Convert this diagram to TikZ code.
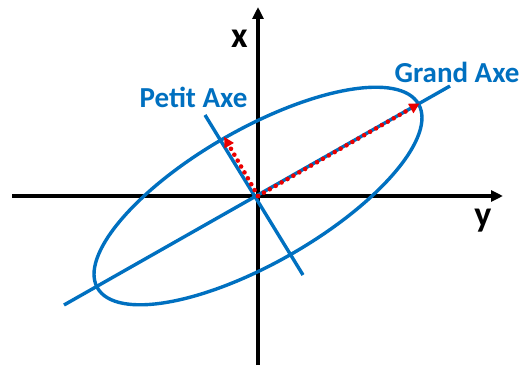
\documentclass[tikz,border=0pt]{standalone}
\usepackage{fontspec}
\setmainfont{Carlito}
\usetikzlibrary{arrows.meta,calc}
\definecolor{axblue}{RGB}{0,112,192}
\definecolor{arrred}{RGB}{235,0,0}
\begin{document}
\begin{tikzpicture}[x=1pt,y=1pt,
  axis/.style={line width=3.2pt,-{Triangle[length=12pt,width=11pt]}},
  blueline/.style={axblue,line width=3.4pt},
  redarrow/.style={arrred,line width=4.6pt,line cap=round,dash pattern=on 0pt off 6.8pt,-{Triangle[length=10pt,width=11pt,line width=0pt]}},
  lab/.style={font=\bfseries\fontsize{36}{40}\selectfont,inner sep=0pt},
  bluelab/.style={font=\bfseries\fontsize{29}{32}\selectfont,inner sep=0pt,text=axblue}]
\useasboundingbox (0,0) rectangle (519,365);
\coordinate (O) at (258,169);
\coordinate (xl) at (12,169);
\coordinate (xr) at (503,169);
\coordinate (yb) at (258,0);
\coordinate (yt) at (258,358);
\coordinate (GA1) at (64,60);
\coordinate (GA2) at (450,279);
\coordinate (PA1) at (205,250);
\coordinate (PA2) at (303,90);
\coordinate (GT) at ($(O)+(29.8:186)$);
\coordinate (PT) at ($(O)+(119.8:68)$);
\draw[axis] (xl) -- (xr);
\draw[axis] (yb) -- (yt);
\draw[blueline, rotate around={29.8:(O)}] (O) ellipse [x radius=185, y radius=67];
\draw[blueline] (GA1) -- (GA2);
\draw[blueline] (PA1) -- (PA2);
\draw[redarrow] (O) -- (GT);
\draw[redarrow] (O) -- (PT);
\node[lab] (xlab) at (239.5,326.5) {x};
\node[lab] (ylab) at (483,144.5) {y};
\node[bluelab] (petit) at (193.5,267.5) {Petit Axe};
\node[bluelab] (grand) at (457,292.5) {Grand Axe};
\end{tikzpicture}
\end{document}
